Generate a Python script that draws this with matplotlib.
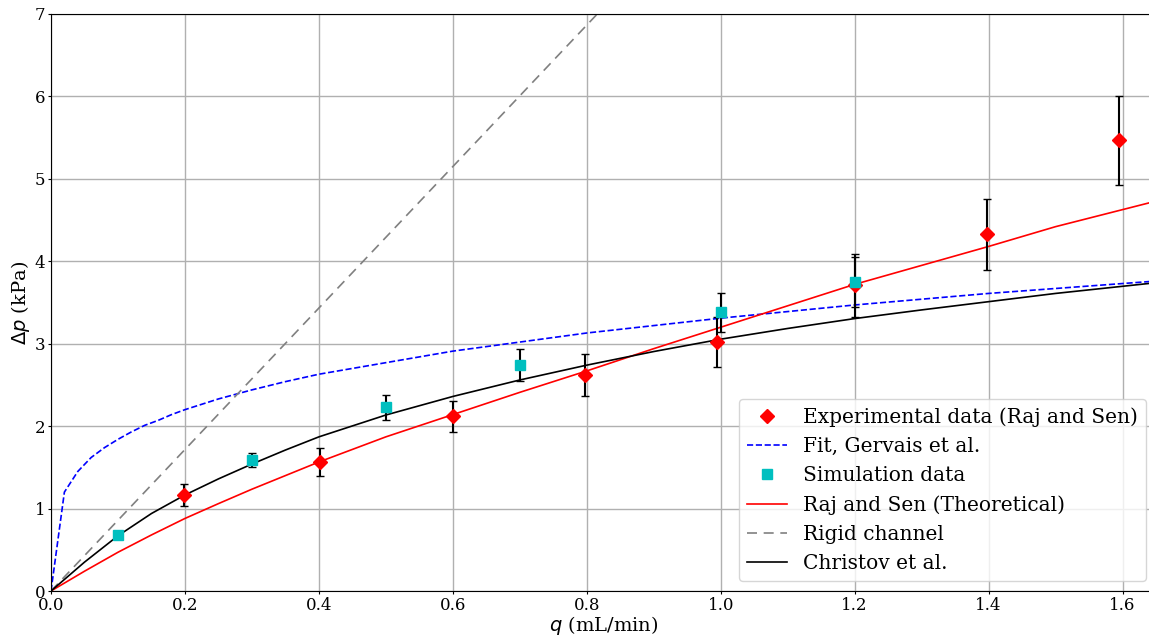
import matplotlib
matplotlib.use("Agg")
import matplotlib.pyplot as plt

plt.rcParams['font.family'] = ['DejaVu Serif']

# experimental data (Raj and Sen)
q_exp = [0.198, 0.402, 0.600, 0.797, 0.995, 1.200, 1.398, 1.595]
dp_exp = [1.165, 1.566, 2.12, 2.62, 3.02, 3.71, 4.33, 5.47]
err_exp = [0.13, 0.17, 0.19, 0.26, 0.30, 0.38, 0.43, 0.54]

# simulation data
q_sim = [0.1, 0.3, 0.5, 0.7, 1.0, 1.2]
dp_sim = [0.68, 1.59, 2.23, 2.74, 3.38, 3.75]
err_sim = [0.03, 0.08, 0.15, 0.19, 0.24, 0.30]

# curves
q_fit = [0, 0.02, 0.04, 0.06, 0.08, 0.10, 0.12, 0.14, 0.16, 0.18, 0.2, 0.25,
         0.3, 0.35, 0.4, 0.5, 0.6, 0.7, 0.8, 0.9, 1.0, 1.1, 1.2, 1.3, 1.4,
         1.5, 1.65]
dp_fit = [0, 1.20, 1.45, 1.62, 1.74, 1.84, 1.93, 2.01, 2.07, 2.14, 2.20, 2.33,
          2.44, 2.54, 2.63, 2.77, 2.91, 3.02, 3.13, 3.22, 3.31, 3.39, 3.47,
          3.54, 3.61, 3.67, 3.76]

q_curve = [0, 0.05, 0.1, 0.15, 0.2, 0.25, 0.3, 0.35, 0.4, 0.5, 0.6, 0.7, 0.8,
           0.9, 1.0, 1.1, 1.2, 1.3, 1.4, 1.5, 1.65]
dp_raj = [0, 0.24, 0.47, 0.68, 0.88, 1.06, 1.235, 1.40, 1.565, 1.87, 2.14,
          2.41, 2.67, 2.94, 3.20, 3.46, 3.72, 3.95, 4.18, 4.42, 4.73]
dp_christov = [0, 0.35, 0.67, 0.94, 1.165, 1.36, 1.54, 1.71, 1.87, 2.135,
               2.36, 2.56, 2.74, 2.905, 3.055, 3.185, 3.305, 3.41, 3.51, 3.61,
               3.74]

q_rigid = [0, 0.86]
dp_rigid = [0, 7.38]

fig = plt.figure(figsize=(11.49, 6.37), dpi=100)
ax = fig.add_axes([51 / 1149, 46 / 637, (1156 - 51) / 1149, 577 / 637])

ax.errorbar(q_exp, dp_exp, yerr=err_exp, fmt='none', ecolor='k',
            elinewidth=1.5, capsize=3, capthick=1, zorder=3)
ax.plot(q_exp, dp_exp, 'rD', ms=7, zorder=4, label='Experimental data (Raj and Sen)')
ax.plot(q_fit, dp_fit, 'b--', lw=1.2, label='Fit, Gervais et al.')
ax.errorbar(q_sim, dp_sim, yerr=err_sim, fmt='none', ecolor='k',
            elinewidth=1.5, capsize=3, capthick=1, zorder=3)
ax.plot(q_sim, dp_sim, 'cs', ms=7, zorder=4, label='Simulation data')
ax.plot(q_curve, dp_raj, 'r-', lw=1.2, label='Raj and Sen (Theoretical)')
ax.plot(q_rigid, dp_rigid, color='gray', ls=(0, (6, 4)), lw=1.2, label='Rigid channel')
ax.plot(q_curve, dp_christov, 'k-', lw=1.2, label='Christov et al.')

ax.set_xlim(0, 1.65)
ax.set_ylim(0, 7)
ax.set_xticks([0, 0.2, 0.4, 0.6, 0.8, 1.0, 1.2, 1.4, 1.6])
ax.grid(True, color='#b0b0b0', lw=1)
ax.set_axisbelow(True)
ax.tick_params(labelsize=12, length=2, pad=2)

ax.set_xlabel('$q$ (mL/min)', fontsize=14, labelpad=0)
ax.set_ylabel(r'$\Delta p$ (kPa)', fontsize=14, labelpad=2)

ax.legend(loc='lower right', fontsize=14.5)

fig.savefig('out.png', dpi=100)
